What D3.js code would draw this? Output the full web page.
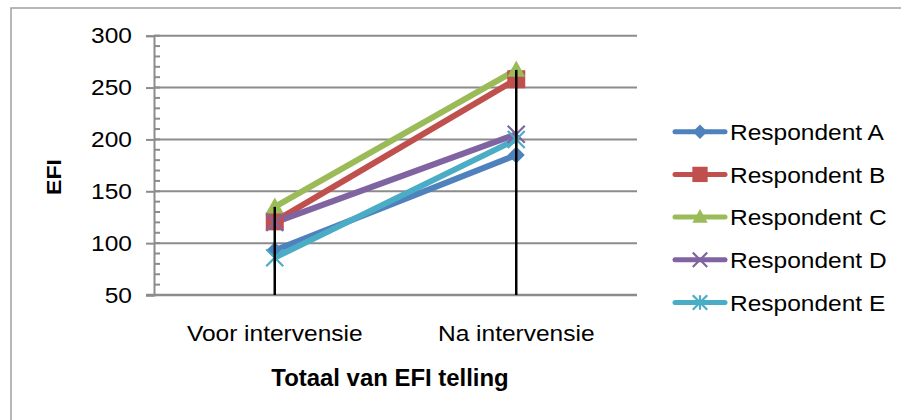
<!DOCTYPE html>
<html><head><meta charset="utf-8">
<script src="https://cdn.jsdelivr.net/npm/d3@7"></script>
<style>body{margin:0;background:#fff}svg{display:block;font-family:"Liberation Sans",Arial,sans-serif}</style>
</head><body><svg id="c" width="901" height="420"></svg>
<script>
const categories = ["Voor intervensie", "Na intervensie"];
const seriesNames = ["Respondent A", "Respondent B", "Respondent C", "Respondent D", "Respondent E"];
const valuesA = [93, 185];
const valuesB = [121, 258];
const valuesC = [135, 267];
const valuesD = [120, 205];
const valuesE = [86, 200];
const yTicks = [50, 100, 150, 200, 250, 300];
const colors = ["#4F81BD", "#C0504D", "#9BBB59", "#8064A2", "#4BACC6"];
const markers = ["diamond", "square", "triangle", "x", "star"];
const xTitle = "Totaal van EFI telling";
const yTitle = "EFI";

(function () {
const allValues = [valuesA, valuesB, valuesC, valuesD, valuesE];
const series = seriesNames.map((n, i) => ({name: n, values: allValues[i], color: colors[i], marker: markers[i]}));

const svg = d3.select("#c");
const pLeft = 154, pRight = 637, pTop = 35.7, pBottom = 295;
const FS = 22.5, SX = 1.09;

// outer border
svg.append("rect").attr("x", 11).attr("y", 8).attr("width", 900).attr("height", 420)
  .attr("fill", "none").attr("stroke", "#a0a0a0").attr("stroke-width", 1.5);

const y = d3.scaleLinear().domain([50, 300]).range([pBottom, pTop]);
const x = d3.scalePoint().domain(categories).range([pLeft, pRight]).padding(0.5);

// gridlines
svg.append("g").selectAll("line").data(yTicks.filter(t => t > 50)).join("line")
  .attr("x1", pLeft).attr("x2", pRight).attr("y1", d => y(d)).attr("y2", d => y(d))
  .attr("stroke", "#8c8c8c").attr("stroke-width", 2);

// minor ticks inside
svg.append("g").selectAll("line").data(d3.range(50, 301, 10)).join("line")
  .attr("x1", pLeft).attr("x2", pLeft + 6).attr("y1", d => y(d)).attr("y2", d => y(d))
  .attr("stroke", "#8c8c8c").attr("stroke-width", 2);

// y axis with major ticks outside
const yAxis = svg.append("g").attr("transform", `translate(${pLeft},0)`)
  .call(d3.axisLeft(y).tickValues(yTicks).tickSize(8).tickFormat(d => d).tickPadding(14));
yAxis.select(".domain").attr("stroke", "#8c8c8c").attr("stroke-width", 2);
yAxis.selectAll(".tick line").attr("stroke", "#8c8c8c").attr("stroke-width", 2);
yAxis.selectAll(".tick text").attr("font-size", FS).attr("fill", "#000")
  .attr("font-family", "Liberation Sans, Arial, sans-serif")
  .attr("transform", `scale(${SX},1)`).attr("x", -22 / SX);

// x axis line
svg.append("line").attr("x1", pLeft - 8).attr("x2", pRight).attr("y1", pBottom).attr("y2", pBottom)
  .attr("stroke", "#8c8c8c").attr("stroke-width", 2.5);

// category labels
svg.append("g").selectAll("text").data(categories).join("text")
  .attr("transform", d => `translate(${x(d)},341) scale(${SX},1)`)
  .attr("text-anchor", "middle").attr("font-size", FS).text(d => d);

// titles
svg.append("text").attr("transform", `translate(390,386) scale(1.04,1)`)
  .attr("text-anchor", "middle").attr("font-size", 23).attr("font-weight", "bold").text(xTitle);
svg.append("text").attr("transform", `translate(61,177) rotate(-90) scale(1.1,1)`)
  .attr("text-anchor", "middle").attr("font-size", 21).attr("font-weight", "bold").text(yTitle);

// series lines
const line = d3.line().x((d, i) => x(categories[i])).y(d => y(d));
svg.append("g").selectAll("path").data(series).join("path")
  .attr("d", d => line(d.values)).attr("fill", "none")
  .attr("stroke", d => d.color).attr("stroke-width", 6).attr("stroke-linejoin", "round");

function drawMarker(g, type, color, s) {
  if (type === "diamond") {
    g.append("path").attr("d", `M0,${-s}L${s},0L0,${s}L${-s},0Z`).attr("fill", color);
  } else if (type === "square") {
    g.append("rect").attr("x", -s).attr("y", -s).attr("width", 2 * s).attr("height", 2 * s).attr("fill", color);
  } else if (type === "triangle") {
    g.append("path").attr("d", `M0,${-s * 1.05}L${s},${s * 0.75}L${-s},${s * 0.75}Z`).attr("fill", color);
  } else if (type === "x") {
    g.append("path").attr("d", `M${-s},${-s}L${s},${s}M${-s},${s}L${s},${-s}`)
      .attr("stroke", color).attr("stroke-width", 2.2);
  } else if (type === "star") {
    g.append("path").attr("d", `M${-s},${-s}L${s},${s}M${-s},${s}L${s},${-s}M0,${-s}L0,${s}`)
      .attr("stroke", color).attr("stroke-width", 2.2);
  }
}
const msize = {diamond: 8.5, square: 9, triangle: 9, x: 8.5, star: 8.5};

series.forEach(s => {
  s.values.forEach((v, i) => {
    const g = svg.append("g").attr("transform", `translate(${x(categories[i])},${y(v)})`);
    drawMarker(g, s.marker, s.color, msize[s.marker]);
  });
});

// drop lines from highest point
categories.forEach((c, i) => {
  const mx = d3.max(series, s => s.values[i]);
  svg.append("line").attr("x1", x(c)).attr("x2", x(c)).attr("y1", y(mx)).attr("y2", pBottom)
    .attr("stroke", "#000").attr("stroke-width", 2.5);
});

// legend
const lg = svg.append("g");
series.forEach((s, i) => {
  const cy = 131.7 + i * 42.7;
  lg.append("line").attr("x1", 675).attr("x2", 725).attr("y1", cy).attr("y2", cy)
    .attr("stroke", s.color).attr("stroke-width", 5).attr("stroke-linecap", "round");
  const g = lg.append("g").attr("transform", `translate(700,${cy})`);
  drawMarker(g, s.marker, s.color, msize[s.marker] * 0.85);
  lg.append("text").attr("transform", `translate(730,${cy}) scale(${SX},1)`)
    .attr("dy", "0.36em").attr("font-size", FS).text(s.name);
});
})();
</script></body></html>
